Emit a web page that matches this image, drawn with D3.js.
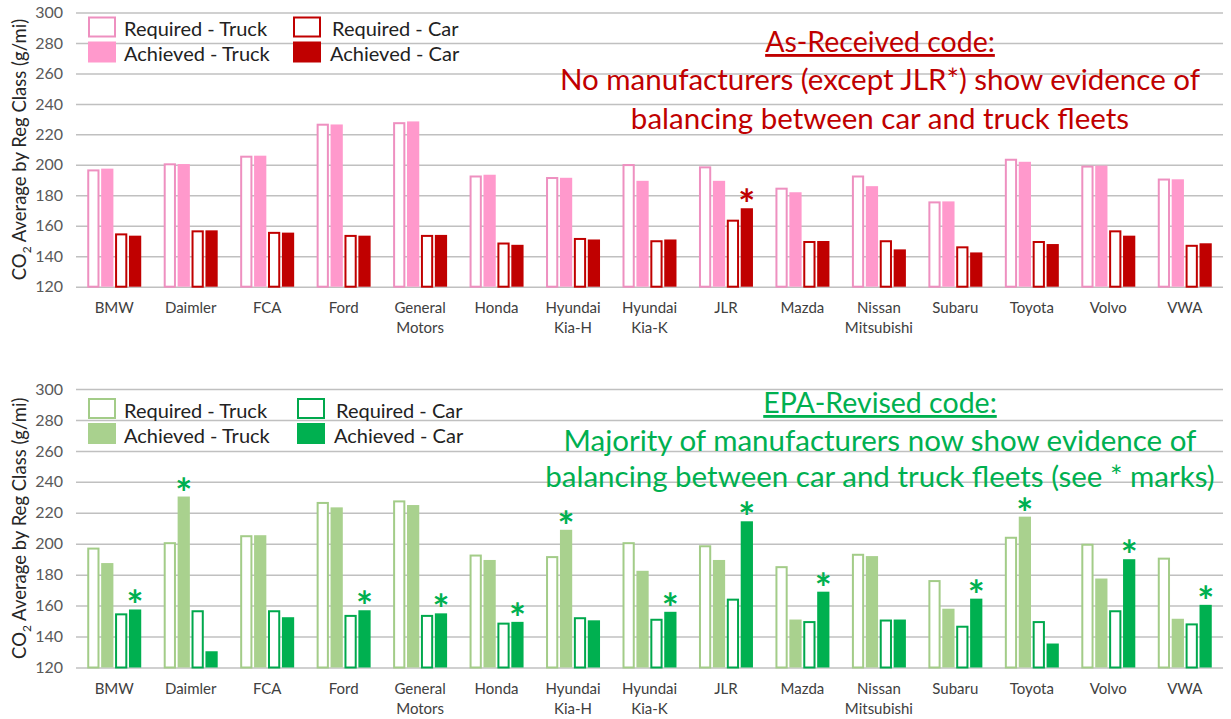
<!DOCTYPE html>
<html>
<head>
<meta charset="utf-8">
<script src="https://cdn.jsdelivr.net/npm/d3@7"></script>
<style>
body { margin: 0; background: #fff; }
svg text { font-family: Lato, "Open Sans", sans-serif; }
</style>
</head>
<body>
<section></section>
<script>
const categories = ["BMW", "Daimler", "FCA", "Ford", "General Motors", "Honda", "Hyundai Kia-H",
    "Hyundai Kia-K", "JLR", "Mazda", "Nissan Mitsubishi", "Subaru", "Toyota", "Volvo", "VWA"];
const yTicks = [120, 140, 160, 180, 200, 220, 240, 260, 280, 300];
const legendLabels = ["Required - Truck", "Achieved - Truck", "Required - Car", "Achieved - Car"];

// As-Received code (top chart)
const asReqTruck = [197, 201, 206, 227, 228, 193, 192, 200.5, 199, 185, 193, 176, 204, 199.5, 191];
const asAchTruck = [197.5, 200.5, 206, 226.5, 228.5, 193.5, 191.5, 189.5, 189.5, 182, 186, 176, 202, 199.5, 190.5];
const asReqCar = [155, 157, 156, 154, 154, 149, 152, 150.5, 164, 150, 150.5, 146.5, 150, 157, 147.5];
const asAchCar = [153.5, 157, 155.5, 153.5, 154, 147.5, 151, 151, 171.5, 150, 144.5, 142.5, 148, 153.5, 148.5];
// which achieved bar gets a * mark
const asStars = ["", "", "", "", "", "", "", "", "car", "", "", "", "", "", ""];

// EPA-Revised code (bottom chart)
const epaReqTruck = [197.5, 201, 205.5, 227, 228, 193, 192, 201, 199, 185.5, 193.5, 176.5, 204.5, 200, 191];
const epaAchTruck = [187.5, 230.5, 205.5, 223.5, 225, 189.5, 209, 182.5, 189.5, 151, 192, 158, 217.5, 177.5, 151.5];
const epaReqCar = [155, 157, 157, 154, 154, 149, 152.5, 151.5, 164.5, 150, 151, 147, 150, 157, 148.5];
const epaAchCar = [157.5, 130.5, 152.5, 157, 155, 149.5, 150.5, 156, 214.5, 169, 151, 164.5, 135.5, 190, 160.5];
const epaStars = ["car", "truck", "", "car", "car", "car", "truck", "car", "car", "car", "", "car", "truck", "car", "car"];

const WIDTH = 1231;
const HEIGHT = 719;
const LEFT = 76;
const RIGHT = 1223;

const svg = d3.select("section")
    .append("svg")
    .attr("width", WIDTH)
    .attr("height", HEIGHT);

const xScale = d3.scaleBand()
    .domain(categories)
    .range([LEFT, RIGHT])
    .paddingInner(0.294)
    .paddingOuter(0.147);

const seriesKeys = ["reqTruck", "achTruck", "reqCar", "achCar"];
const xInner = d3.scaleBand()
    .domain(seriesKeys)
    .range([0, xScale.bandwidth()])
    .paddingInner(0.12);

const createChart = (cfg) => {
    const yScale = d3.scaleLinear()
        .domain([120, 300])
        .range([cfg.bottom, cfg.top]);

    const g = svg.append("g");

    // gridlines + y tick labels
    g.append("g")
        .attr("transform", "translate(" + LEFT + ",0)")
        .call(d3.axisLeft(yScale).tickValues(yTicks).tickSize(-(RIGHT - LEFT)).tickPadding(13))
        .call(a => a.select(".domain").remove())
        .call(a => a.selectAll("line").attr("stroke", "#c0c0c0").attr("stroke-width", 1.5))
        .call(a => a.selectAll("text")
            .attr("fill", "#595959")
            .attr("font-size", 16)
            .attr("font-family", "Lato, sans-serif"));

    // category labels, split on the space
    g.append("g")
        .attr("transform", "translate(0," + cfg.bottom + ")")
        .call(d3.axisBottom(xScale).tickSize(0).tickPadding(16))
        .call(a => a.select(".domain").remove())
        .call(a => a.selectAll("text")
            .attr("fill", "#404040")
            .attr("font-size", 15)
            .attr("font-family", "Lato, sans-serif")
            .each(function (d) {
                const t = d3.select(this);
                t.text(null);
                d.split(" ").forEach((w, i) => {
                    t.append("tspan").attr("x", 0).attr("dy", i === 0 ? "0.71em" : "1.33em").text(w);
                });
            }));

    const rows = categories.map((c, i) => ({
        cat: c,
        star: cfg.stars[i],
        vals: seriesKeys.map((k, j) => ({key: k, value: cfg.values[j][i]}))
    }));

    const colorOf = k => k.endsWith("Truck") ? cfg.truck : cfg.car;
    const strokeOf = k => k.endsWith("Truck") ? cfg.truckStroke : cfg.carStroke;

    const groups = g.selectAll(".cat")
        .data(rows)
        .enter()
        .append("g")
        .attr("class", "cat")
        .attr("transform", d => "translate(" + xScale(d.cat) + ",0)");

    groups.selectAll("rect")
        .data(d => d.vals)
        .enter()
        .append("rect")
        .attr("x", d => xInner(d.key) + (d.key.startsWith("req") ? 1 : 0))
        .attr("width", d => xInner.bandwidth() - (d.key.startsWith("req") ? 2 : 0))
        .attr("y", d => yScale(d.value) + (d.key.startsWith("req") ? 1 : 0))
        .attr("height", d => cfg.bottom - yScale(d.value) - (d.key.startsWith("req") ? 1 : 0))
        .attr("fill", d => d.key.startsWith("req") ? "#fff" : colorOf(d.key))
        .attr("stroke", d => d.key.startsWith("req") ? strokeOf(d.key) : "none")
        .attr("stroke-width", 2);

    // * marks above the achieved bar
    groups.filter(d => d.star !== "")
        .append("text")
        .attr("x", d => {
            const k = d.star === "car" ? "achCar" : "achTruck";
            return xInner(k) + xInner.bandwidth() / 2;
        })
        .attr("y", d => {
            const k = d.star === "car" ? "achCar" : "achTruck";
            const v = d.vals.find(e => e.key === k).value;
            return yScale(v) + 11;
        })
        .attr("text-anchor", "middle")
        .attr("font-size", 40)
        .attr("font-weight", "bold")
        .attr("fill", cfg.starColor)
        .text("*");

    // legend
    const legend = g.append("g");
    const items = legendLabels.map((lab, i) => ({
        label: lab,
        key: seriesKeys[i],
        col: i < 2 ? 0 : 1,
        row: i % 2
    }));
    const li = legend.selectAll("g")
        .data(items)
        .enter()
        .append("g")
        .attr("transform", d => "translate(" + cfg.legendX[d.col] + "," + (cfg.legendY + d.row * 25) + ")");
    li.append("rect")
        .attr("x", d => d.key.startsWith("req") ? 1 : 0)
        .attr("y", d => d.key.startsWith("req") ? 1 : 0)
        .attr("width", d => d.key.startsWith("req") ? 26 : 28)
        .attr("height", d => d.key.startsWith("req") ? 19 : 21)
        .attr("fill", d => d.key.startsWith("req") ? "#fff" : colorOf(d.key))
        .attr("stroke", d => d.key.startsWith("req") ? strokeOf(d.key) : "none")
        .attr("stroke-width", 2);
    li.append("text")
        .attr("x", d => d.col === 0 ? 36 : (d.row === 0 ? 39 : 37))
        .attr("y", 19.5)
        .attr("font-size", 20)
        .attr("fill", "#222")
        .text(d => d.label);

    // annotation
    const note = g.append("g").attr("fill", cfg.noteColor).attr("text-anchor", "middle");
    note.append("text")
        .attr("x", 880)
        .attr("y", cfg.noteY[0])
        .attr("font-size", 28.5)
        .style("text-decoration", "underline")
        .text(cfg.note[0]);
    cfg.note.slice(1).forEach((line, i) => {
        note.append("text")
            .attr("x", 880)
            .attr("y", cfg.noteY[i + 1])
            .attr("font-size", 29.5)
            .text(line);
    });

    // y axis title
    const title = g.append("text")
        .attr("transform", "translate(26," + ((cfg.top + cfg.bottom) / 2) + ") rotate(-90)")
        .attr("text-anchor", "middle")
        .attr("font-size", 18.5)
        .attr("fill", "#262626");
    title.append("tspan").text("CO");
    title.append("tspan").attr("font-size", 12).attr("dy", 5).text("2");
    title.append("tspan").attr("dy", -5).text(" Average by Reg Class (g/mi)");
};

createChart({
    top: 12.5,
    bottom: 286.7,
    values: [asReqTruck, asAchTruck, asReqCar, asAchCar],
    stars: asStars,
    truck: "#ff99cc",
    truckStroke: "#ee90c0",
    car: "#c00000",
    carStroke: "#c00000",
    starColor: "#c00000",
    legendX: [88, 293],
    legendY: 16.5,
    noteColor: "#c00000",
    note: ["As-Received code:", "No manufacturers (except JLR*) show evidence of", "balancing between car and truck fleets"],
    noteY: [52, 90, 129]
});

createChart({
    top: 389,
    bottom: 667.5,
    values: [epaReqTruck, epaAchTruck, epaReqCar, epaAchCar],
    stars: epaStars,
    truck: "#a9d18e",
    truckStroke: "#a3cc88",
    car: "#00b050",
    carStroke: "#00a84c",
    starColor: "#00b050",
    legendX: [88, 297],
    legendY: 398,
    noteColor: "#00b050",
    note: ["EPA-Revised code:", "Majority of manufacturers now show evidence of", "balancing between car and truck fleets (see * marks)"],
    noteY: [413, 451, 487]
});
</script>
</body>
</html>
